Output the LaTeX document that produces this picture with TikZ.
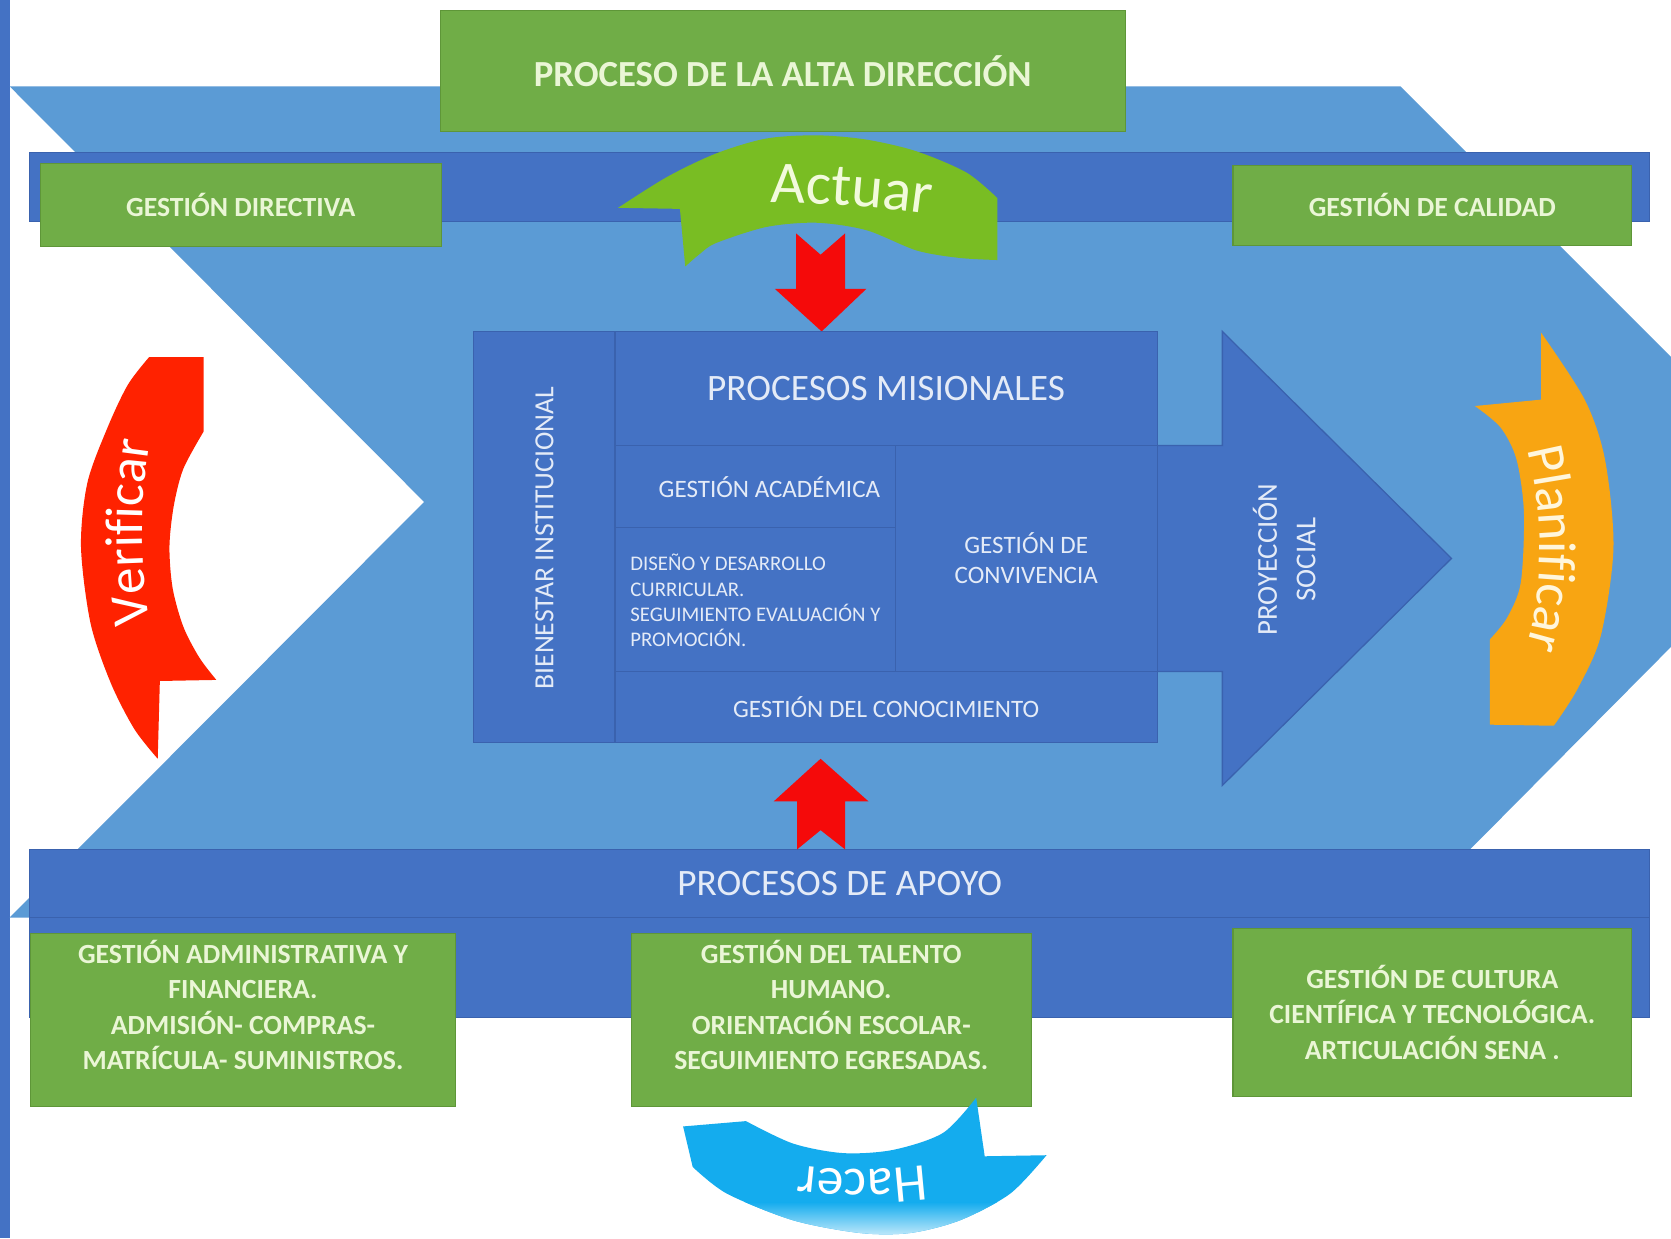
\documentclass[tikz,border=0pt]{standalone}
\usepackage{fontspec}
\setmainfont{Carlito}
\usetikzlibrary{decorations.text}
\definecolor{lblue}{HTML}{5B9BD5}
\definecolor{dblue}{HTML}{4472C4}
\definecolor{bedge}{HTML}{3A62AE}
\definecolor{gbox}{HTML}{70AD47}
\definecolor{gedge}{HTML}{5E9638}
\definecolor{gtext}{HTML}{EAF6D6}
\definecolor{btext}{HTML}{E4EBF7}
\definecolor{actg}{HTML}{79BD23}
\definecolor{acttext}{HTML}{F2FADC}
\definecolor{redA}{HTML}{F50A0A}
\definecolor{redV}{HTML}{FF2200}
\definecolor{orgP}{HTML}{F8A512}
\definecolor{orgtext}{HTML}{FFF6DC}
\definecolor{cyanH}{HTML}{14ACEE}
\begin{document}
\begin{tikzpicture}[x=1pt,y=-1pt,
  bluecell/.style={draw=bedge, line width=1.2pt, fill=dblue, inner sep=0pt, outer sep=0pt},
  greenbox/.style={draw=gedge, line width=1pt, fill=gbox, inner sep=0pt, outer sep=0pt},
  gtxt/.style={text=gtext, font=\fontsize{26}{33}\selectfont\bfseries, align=center},
  btxt/.style={text=btext, font=\fontsize{23.5}{28}\selectfont, align=center},
]
\useasboundingbox (0,0) rectangle (1568,1162);
\fill[white] (0,0) rectangle (1568,1162);
\fill[dblue] (0,0) rectangle (9,1162);
% chevron
\fill[lblue] (9,81) -- (1314,81) -- (1568,335) -- (1568,607) -- (1316,861) -- (9,861) -- (398,471) -- cycle;

% bands
\node[bluecell, minimum width=1520pt, minimum height=65pt] (topband) at (788,175.5) {};
\node[bluecell, minimum width=1520pt, minimum height=94pt] (botband) at (788,908) {};
\node[bluecell, minimum width=1520pt, minimum height=64pt, btxt, font=\fontsize{35}{40}\selectfont] (apoyo) at (788,829) {PROCESOS DE APOYO};

% top green boxes
\node[greenbox, minimum width=643pt, minimum height=113pt, gtxt, font=\fontsize{34.5}{40}\selectfont\bfseries] (alta) at (734.5,66.5) {PROCESO DE LA ALTA DIRECCIÓN};
\node[greenbox, minimum width=376pt, minimum height=78pt, gtxt] (directiva) at (226,192) {GESTIÓN DIRECTIVA};
\node[greenbox, minimum width=374pt, minimum height=75pt, gtxt] (calidad) at (1344,192.5) {GESTIÓN DE CALIDAD};

% Actuar
\fill[actg] (580,195) -- (638,196) -- (643,250) -- plot[smooth] coordinates {(643,250) (657,238) (672,228) (719,213) (766,209) (813,216) (860,235) (900,242) (936,244)} -- (936,186) -- plot[smooth] coordinates {(936,186) (907,162) (860,142) (813,131) (767,127) (719,130) (672,144) (626,166) (580,195)} -- cycle;
\path[decorate, decoration={text along path, text={|\fontsize{56}{56}\selectfont|Actuar}, text align=center, text color=acttext}] plot[smooth] coordinates {(630,196) (715,190) (800,193) (880,202) (965,218)};

% red down arrow
\fill[redA] (747,219) -- (770,239) -- (793,219) -- (793,271) -- (813,271) -- (771,311) -- (727,271) -- (747,271) -- cycle;

% proyeccion arrow
\draw[bluecell] (1080,418) -- (1147,418) -- (1147,311) -- (1362,524) -- (1147,737) -- (1147,630) -- (1080,630) -- cycle;
\node[btxt, rotate=90, font=\fontsize{27}{36}\selectfont] (proy) at (1205,525) {PROYECCIÓN\\SOCIAL};

% central block
\node[bluecell, minimum width=133pt, minimum height=386pt] (bien) at (510.5,504) {};
\node[btxt, rotate=90, font=\fontsize{26}{30}\selectfont] (bientxt) at (511,505) {BIENESTAR INSTITUCIONAL};
\node[bluecell, minimum width=509pt, minimum height=107pt, btxt, font=\fontsize{35}{40}\selectfont] (misi) at (831.5,364.5) {PROCESOS MISIONALES};
\node[bluecell, minimum width=263pt, minimum height=77pt] (acad) at (708.5,456.5) {};
\node[btxt] (acadtxt) at (722,457) {GESTIÓN ACADÉMICA};
\node[bluecell, minimum width=263pt, minimum height=135pt] (dise) at (708.5,562.5) {};
\node[btxt, align=left, anchor=west, font=\fontsize{19.5}{23.7}\selectfont] (disetxt) at (588,563.5) {DISEÑO Y DESARROLLO\\CURRICULAR.\\SEGUIMIENTO EVALUACIÓN Y\\PROMOCIÓN.};
\node[bluecell, minimum width=246pt, minimum height=212pt, btxt] (conv) at (963,524) {GESTIÓN DE\\CONVIVENCIA};
\node[bluecell, minimum width=509pt, minimum height=67pt, btxt] (cono) at (831.5,663.5) {GESTIÓN DEL CONOCIMIENTO};

% red up arrow
\fill[redA] (770,712) -- (815,752) -- (793,752) -- (793,797) -- (770,779) -- (748,797) -- (748,752) -- (726,752) -- cycle;

% bottom green boxes
\node[greenbox, minimum width=398pt, minimum height=162pt] (admin) at (228,957) {};
\node[gtxt] (admintxt) at (228,943) {GESTIÓN ADMINISTRATIVA Y\\FINANCIERA.\\ADMISIÓN- COMPRAS-\\MATRÍCULA- SUMINISTROS.};
\node[greenbox, minimum width=375pt, minimum height=162pt] (talento) at (780.5,957) {};
\node[gtxt] (talentotxt) at (780,943) {GESTIÓN DEL TALENTO\\HUMANO.\\ORIENTACIÓN ESCOLAR-\\SEGUIMIENTO EGRESADAS.};
\node[greenbox, minimum width=374pt, minimum height=158pt, gtxt] (cultura) at (1344,950) {GESTIÓN DE CULTURA\\CIENTÍFICA Y TECNOLÓGICA.\\ARTICULACIÓN SENA .};

% Hacer
\fill[cyanH] (641,1057) -- (700,1052) -- plot[smooth] coordinates {(700,1052) (744,1073) (791,1082) (838,1079) (885,1063) (916,1030)} -- (924,1085) -- (982,1084) -- plot[smooth] coordinates {(982,1084) (948,1120) (901,1145) (854,1157) (807,1157) (744,1145) (682,1120) (650,1095)} -- cycle;
\begin{scope}
\clip (641,1057) -- (700,1052) -- plot[smooth] coordinates {(700,1052) (744,1073) (791,1082) (838,1079) (885,1063) (916,1030)} -- (924,1085) -- (982,1084) -- plot[smooth] coordinates {(982,1084) (948,1120) (901,1145) (854,1157) (807,1157) (744,1145) (682,1120) (650,1095)} -- cycle;
\shade[top color=cyanH, bottom color=cyanH!25!white] (620,1128) rectangle (1000,1160);
\end{scope}
\path[decorate, decoration={text along path, text={|\fontsize{50}{50}\selectfont|Hacer}, text align=center, text color=white}] plot[smooth] coordinates {(990,1055) (930,1082) (860,1094) (800,1097) (740,1092) (680,1072) (630,1048)};

% Verificar
\fill[redV] (140,335) -- (191,335) -- (191,405) -- plot[smooth] coordinates {(191,405) (172,440) (163,475) (159,513) (162,552) (172,588) (187,617) (203,638)} -- (150,639) -- (148,712) -- plot[smooth] coordinates {(148,712) (126,684) (104,641) (85,585) (76,513) (82,453) (101,401) (120,361) (140,335)} -- cycle;
\path[decorate, decoration={text along path, text={|\fontsize{50}{50}\selectfont|Verificar}, text align=center, text color=white}] plot[smooth] coordinates {(165,690) (146,620) (136,550) (134,480) (141,410) (156,350) (171,310)};

% Planificar
\fill[orgP] (1446,312) -- (1446,375) -- (1384,381) -- plot[smooth] coordinates {(1384,381) (1408,401) (1423,431) (1430,481) (1427,547) (1414,580) (1398,600)} -- (1398,680) -- (1458,681) -- plot[smooth] coordinates {(1458,681) (1480,647) (1502,597) (1514,514) (1506,431) (1487,375) (1446,312)} -- cycle;
\path[decorate, decoration={text along path, text={|\fontsize{50}{50}\selectfont|Planificar}, text align=center, text color=orgtext}] plot[smooth] coordinates {(1405,350) (1427,400) (1440,455) (1445,514) (1440,575) (1425,630) (1405,680)};
\end{tikzpicture}
\end{document}
